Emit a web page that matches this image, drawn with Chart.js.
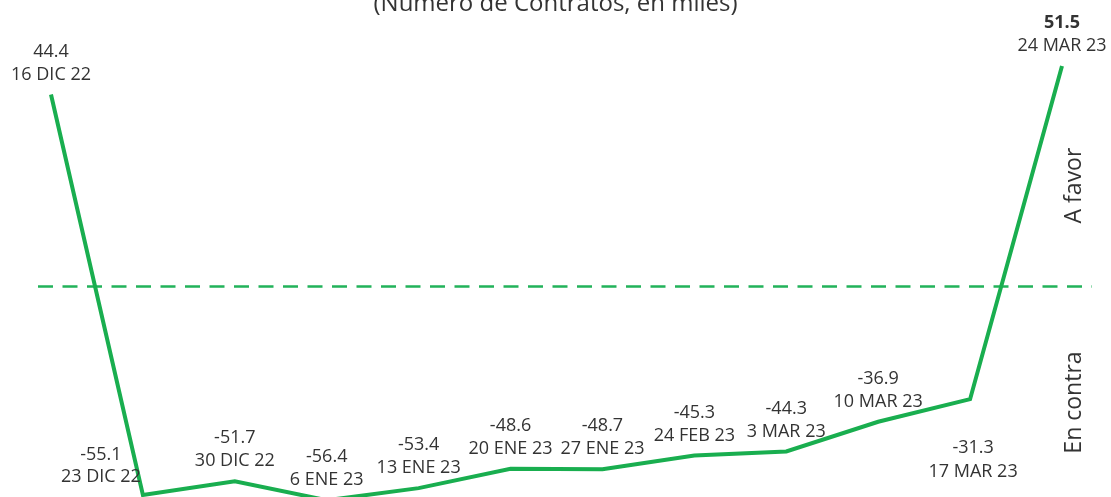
<!DOCTYPE html>
<html>
<head>
<meta charset="utf-8">
<script src="https://cdn.jsdelivr.net/npm/chart.js@4"></script>
<style>
  html, body { margin: 0; padding: 0; background: #ffffff; overflow: hidden; }
  #wrap { width: 1111px; height: 497px; position: relative; }
</style>
</head>
<body>
<div id="wrap"><canvas id="chart" width="1111" height="497"></canvas></div>
<script>
// Weekly net position (thousands of contracts)
const dates = ['16 DIC 22', '23 DIC 22', '30 DIC 22', '6 ENE 23', '13 ENE 23', '20 ENE 23',
               '27 ENE 23', '24 FEB 23', '3 MAR 23', '10 MAR 23', '17 MAR 23', '24 MAR 23'];
const netPosition = [44.4, -55.1, -51.7, -56.4, -53.4, -48.6, -48.7, -45.3, -44.3, -36.9, -31.3, 51.5];
// where each point's value/date label sits relative to the point
const labelSide = ['above', 'left', 'above', 'above', 'above', 'above',
                   'above', 'above', 'above', 'above', 'below', 'above'];
const yMin = -55.6;
const yMax = 67.9;
const dividerLevel = -3.3;
const titleText = '(Número de Contratos, en miles)';
const sideLabels = ['A favor', 'En contra'];

const GREEN = '#19ae4f';
const TEXT = '#333333';
const FONT = '"Open Sans", "Noto Sans", sans-serif';

const decorations = {
  id: 'decorations',
  beforeDatasetsDraw(chart) {
    const { ctx, chartArea, scales } = chart;
    const yDiv = scales.y.getPixelForValue(dividerLevel);
    ctx.save();
    // dashed divider between "A favor" and "En contra"
    ctx.strokeStyle = '#22b25a';
    ctx.lineWidth = 2.5;
    ctx.setLineDash([15, 9.5]);
    ctx.beginPath();
    ctx.moveTo(chartArea.left - 13, yDiv);
    ctx.lineTo(chartArea.right + 30, yDiv);
    ctx.stroke();
    ctx.setLineDash([]);

    // title, partly above the canvas edge
    ctx.fillStyle = TEXT;
    ctx.font = '24px ' + FONT;
    ctx.textAlign = 'center';
    ctx.textBaseline = 'alphabetic';
    ctx.fillText(titleText, chart.width / 2, 10.5);

    // rotated side labels
    ctx.font = '23px ' + FONT;
    ctx.textBaseline = 'middle';
    const sx = chartArea.right + 12;
    [[sideLabels[0], yDiv - 101], [sideLabels[1], yDiv + 116]].forEach(([t, y]) => {
      ctx.save();
      ctx.translate(sx, y);
      ctx.rotate(-Math.PI / 2);
      ctx.fillText(t, 0, 0);
      ctx.restore();
    });
    ctx.restore();
  },
  afterDatasetsDraw(chart) {
    const { ctx } = chart;
    const meta = chart.getDatasetMeta(0);
    ctx.save();
    ctx.fillStyle = TEXT;
    ctx.textAlign = 'center';
    ctx.textBaseline = 'middle';
    meta.data.forEach((pt, i) => {
      let x = pt.x, vy, dy;
      if (labelSide[i] === 'left') {
        x -= 42; vy = pt.y - 40; dy = pt.y - 18;
      } else if (labelSide[i] === 'below') {
        x += 3; vy = pt.y + 49; dy = pt.y + 73;
      } else {
        vy = pt.y - 43; dy = pt.y - 20;
      }
      const last = i === netPosition.length - 1;
      ctx.font = (last ? 'bold ' : '') + '18px ' + FONT;
      ctx.fillText(netPosition[i].toFixed(1), x, vy);
      ctx.font = '18px ' + FONT;
      ctx.fillText(dates[i], x, dy);
    });
    ctx.restore();
  }
};

new Chart(document.getElementById('chart'), {
  type: 'line',
  data: {
    labels: dates,
    datasets: [{
      data: netPosition,
      borderColor: GREEN,
      borderWidth: 4,
      pointRadius: 0,
      tension: 0,
      fill: false,
      clip: false
    }]
  },
  options: {
    responsive: false,
    animation: false,
    layout: { padding: { left: 51, right: 49, top: 0, bottom: 0 } },
    plugins: { legend: { display: false }, tooltip: { enabled: false }, title: { display: false } },
    scales: {
      x: { display: false, offset: false },
      y: { display: false, min: yMin, max: yMax }
    }
  },
  plugins: [decorations]
});
</script>
</body>
</html>
